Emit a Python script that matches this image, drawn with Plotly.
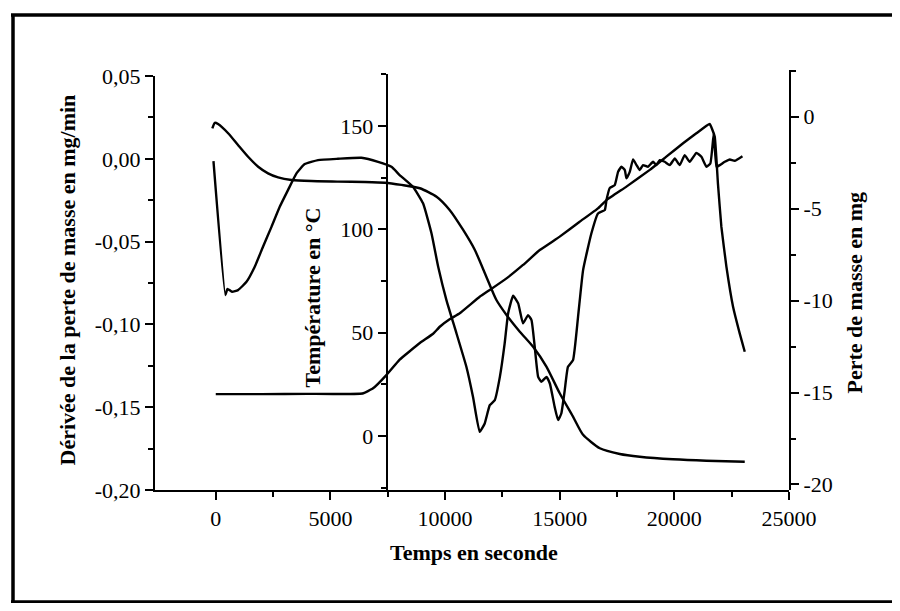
import plotly.graph_objects as go

# ---------------- data ----------------
# Derivative of mass loss (mg/min) vs time (s) -- left axis
t_deriv = [-100, 420, 510, 710, 970, 1340, 1700, 2060, 2430, 2790, 3150, 3520, 3880,
           4460, 5330, 6350, 7080, 7660, 8020, 8600, 9040, 9410, 9700, 10060, 10500,
           10930, 11220, 11510, 11730, 11950, 12170, 12390, 12600, 12750, 12970, 13190,
           13400, 13620, 13770, 13910, 14060, 14200, 14420, 14570, 14780, 14930, 15070,
           15220, 15360, 15580, 15800, 16020, 16380, 16670, 16965, 17040, 17180, 17400,
           17545, 17690, 17840, 17910, 18055, 18200, 18350, 18490, 18635, 18850, 19070,
           19220, 19360, 19580, 19800, 20020, 20235, 20450, 20670, 20960, 21180, 21400,
           21570, 21720, 21840, 21980, 22200, 22420, 22630, 22970]
deriv = [-0.0014, -0.0823, -0.0785, -0.0803, -0.0793, -0.0743, -0.0652, -0.0531, -0.0411,
         -0.0290, -0.0189, -0.0088, -0.0032, -0.0008, 0.0000, 0.0006, -0.0018, -0.0048,
         -0.0098, -0.0169, -0.0269, -0.0451, -0.0652, -0.0853, -0.1055, -0.1256, -0.1438,
         -0.1649, -0.1598, -0.1488, -0.1457, -0.1317, -0.1115, -0.0934, -0.0827, -0.0873,
         -0.0994, -0.0944, -0.0974, -0.1135, -0.1317, -0.1347, -0.1317, -0.1357, -0.1498,
         -0.1578, -0.1538, -0.1397, -0.1256, -0.1216, -0.0954, -0.0672, -0.0451, -0.0330,
         -0.0310, -0.0249, -0.0177, -0.0159, -0.0079, -0.0048, -0.0068, -0.0118, -0.0079,
         -0.0004, -0.0038, -0.0068, -0.0038, -0.0048, -0.0018, -0.0038, -0.0008, -0.0018,
         -0.0038, 0.0002, -0.0038, 0.0022, -0.0018, 0.0036, 0.0012, -0.0048, -0.0028,
         0.0153, -0.0048, -0.0038, -0.0018, -0.0004, -0.0012, 0.0016]

# Temperature (deg C) vs time (s) -- middle axis
t_temp = [0, 2000, 4000, 6400, 6860, 7440, 8020, 8900, 9480, 9770, 10200, 10640, 11510,
          11950, 12680, 13400, 14130, 15000, 15870, 16670, 17040, 17910, 18930, 19650,
          20380, 20960, 21540, 21760, 21900, 22050, 22270, 22560, 22850, 23070]
temp = [20.3, 20.3, 20.4, 20.6, 23.1, 29.5, 37.0, 45.0, 49.5, 52.9, 56.5, 59.4, 67.4,
        70.7, 76.3, 82.8, 90.0, 96.5, 103.7, 110.2, 114.2, 120.7, 128.8, 135.2, 141.7,
        146.5, 151.0, 144.9, 122.3, 101.3, 82.0, 62.6, 49.7, 40.8]

# Mass loss (mg) vs time (s) -- right axis
t_mass = [-150, -40, 100, 540, 970, 1410, 1850, 2280, 2720, 3300, 4170, 5330, 6500,
          7370, 8100, 8900, 9630, 10200, 10790, 11300, 11800, 12240, 12680, 13260,
          13840, 14420, 15000, 15580, 16020, 16750, 17620, 18490, 19940, 21400, 23070]
mass = [-0.63, -0.33, -0.40, -0.90, -1.54, -2.18, -2.72, -3.08, -3.30, -3.44, -3.50,
        -3.53, -3.55, -3.59, -3.71, -3.89, -4.35, -5.07, -6.16, -7.25, -8.70, -9.97,
        -10.78, -11.69, -12.51, -13.59, -15.04, -16.31, -17.30, -18.03, -18.34, -18.49,
        -18.63, -18.71, -18.76]

x_ticks = [0, 5000, 10000, 15000, 20000, 25000]
x_minor = [2500, 7500, 12500, 17500, 22500]
left_ticks = [0.05, 0.00, -0.05, -0.10, -0.15, -0.20]
left_labels = ["0,05", "0,00", "-0,05", "-0,10", "-0,15", "-0,20"]
left_minor = [0.025, -0.025, -0.075, -0.125, -0.175]
temp_ticks = [0, 50, 100, 150]
temp_minor = [-25, 25, 75, 125, 175]
mass_ticks = [0, -5, -10, -15, -20]
mass_labels = ["0", "-5", "-10", "-15", "-20"]
mass_minor = [2.5, -2.5, -7.5, -12.5, -17.5]

# ---------------- figure ----------------
OFF = 8                      # the page body adds an 8 px margin on every side
W, H = 900 - 2 * OFF, 611 - 2 * OFF
# plot area in screen pixels: x 155..789, y 70..490
L, T = 155 - OFF, 70 - OFF
R = W - (789 - OFF)
B = H - (490 - OFF)
PW, PH = W - L - R, H - T - B

def px(xs):                  # screen x -> paper x
    return (xs - OFF - L) / PW

def py(ys):                  # screen y -> paper y
    return (H - B - (ys - OFF)) / PH

fig = go.Figure()
fig.add_trace(go.Scatter(x=t_deriv, y=deriv, mode="lines", xaxis="x", yaxis="y",
                         line=dict(color="black", width=2.4, shape="spline", smoothing=0.4)))
fig.add_trace(go.Scatter(x=t_temp, y=temp, mode="lines", xaxis="x", yaxis="y2",
                         line=dict(color="black", width=2.4, shape="spline", smoothing=0.3)))
fig.add_trace(go.Scatter(x=t_mass, y=mass, mode="lines", xaxis="x", yaxis="y3",
                         line=dict(color="black", width=2.4, shape="spline", smoothing=0.6)))

tickfont = dict(family="Liberation Serif", size=22, color="black")
titlefont = dict(family="Liberation Serif", size=22, color="black")

common = dict(showgrid=False, zeroline=False, showline=True, linecolor="black",
              linewidth=2, ticks="outside", tickcolor="black", tickwidth=2,
              ticklen=8, tickfont=tickfont)

def minor(vals):
    return dict(tickmode="array", tickvals=vals, ticks="outside",
                ticklen=5, tickcolor="black", tickwidth=2)

fig.update_layout(
    width=W, height=H,
    margin=dict(l=L, r=R, t=T, b=B),
    paper_bgcolor="white", plot_bgcolor="rgba(0,0,0,0)",
    showlegend=False,
    xaxis=dict(range=[-2650, 25000], tickmode="array", tickvals=x_ticks,
               ticktext=[str(v) for v in x_ticks], domain=[0, 1], anchor="y",
               minor=minor(x_minor), **common),
    yaxis=dict(range=[-0.2, 0.05], domain=[0, 414 / 420], tickmode="array",
               tickvals=left_ticks, ticktext=left_labels, anchor="x",
               minor=minor(left_minor), **common),
    yaxis2=dict(range=[-26.1, 175.2], domain=[0, 416 / 420], anchor="free",
                position=px(386.7), side="left", tickmode="array",
                tickvals=temp_ticks, ticktext=[str(v) for v in temp_ticks],
                minor=minor(temp_minor), **common),
    yaxis3=dict(range=[-20.3, 2.54], domain=[0, 1], anchor="x", side="right",
                tickmode="array", tickvals=mass_ticks, ticktext=mass_labels,
                minor=minor(mass_minor), **common),
)

ann = [
    dict(text="Dérivée de la perte de masse en mg/min", x=px(67), y=py(280.5), textangle=-90),
    dict(text="Température en °C", x=px(312), y=py(297.5), textangle=-90),
    dict(text="Perte de masse en mg", x=px(854), y=py(292.5), textangle=-90),
    dict(text="Temps en seconde", x=px(474), y=py(552), textangle=0),
]
for a in ann:
    fig.add_annotation(xref="paper", yref="paper", showarrow=False,
                       xanchor="center", yanchor="middle",
                       font=titlefont, text="<b>" + a["text"] + "</b>",
                       x=a["x"], y=a["y"], textangle=a["textangle"])

# outer frame of the figure (left, top and bottom edges; the right edge is off the picture)
frame = dict(color="black", width=3.5)
fig.add_shape(type="line", xref="paper", yref="paper",
              x0=px(13), x1=px(13), y0=py(602), y1=py(15), line=frame)
fig.add_shape(type="line", xref="paper", yref="paper",
              x0=px(11), x1=px(892), y0=py(15), y1=py(15), line=frame)
fig.add_shape(type="line", xref="paper", yref="paper",
              x0=px(11), x1=px(892), y0=py(602), y1=py(602), line=frame)

fig.write_html("out.html")
